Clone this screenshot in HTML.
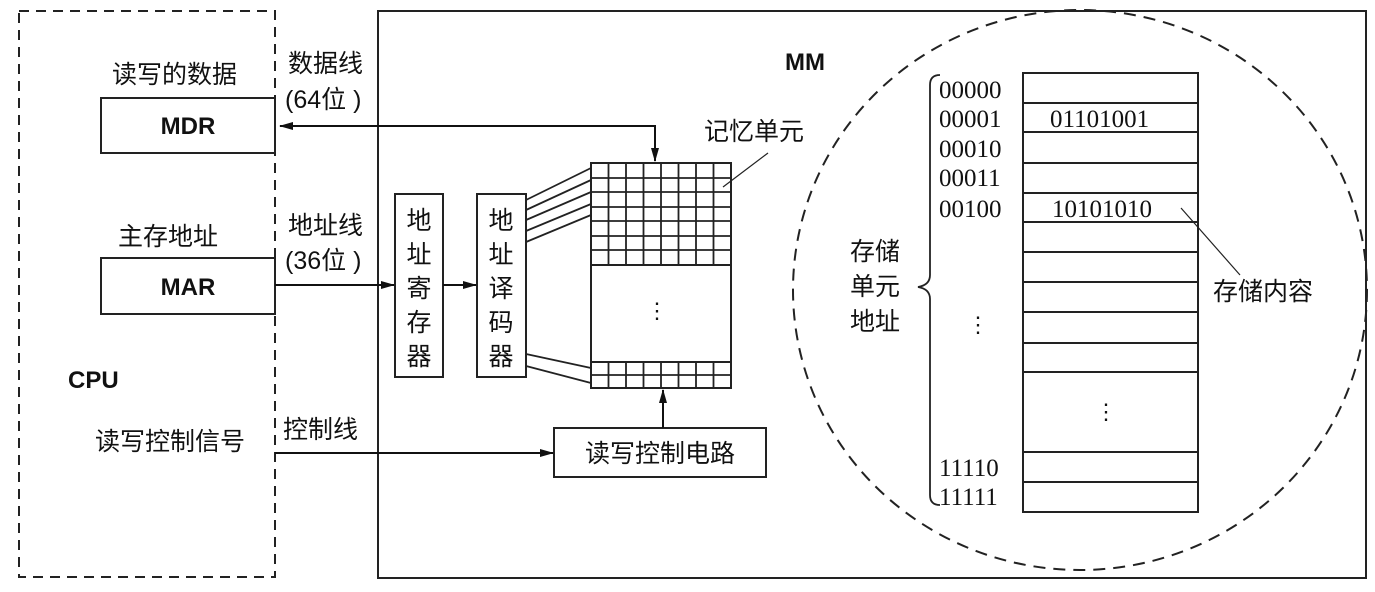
<!DOCTYPE html>
<html><head><meta charset="utf-8"><style>
body{margin:0;background:#fff;}
svg{display:block;}
text{fill:#111;}
.cn{font-family:"Liberation Sans","Noto Sans CJK SC",sans-serif;font-size:25px;}
.en{font-family:"Liberation Sans",sans-serif;font-size:24px;font-weight:bold;}
.num{font-family:"Liberation Serif",serif;font-size:25px;}
</style></head><body>
<svg width="1375" height="592" viewBox="0 0 1375 592" xmlns="http://www.w3.org/2000/svg">
<defs>
<marker id="a" markerWidth="14" markerHeight="8" refX="13" refY="4" orient="auto" markerUnits="userSpaceOnUse"><path d="M0,0 L14,4 L0,8 z" fill="#111"/></marker>
</defs>
<g stroke="#222" fill="none" stroke-width="2">
<rect x="19" y="11" width="256" height="566" stroke-dasharray="10,7"/>
<rect x="101" y="98" width="174" height="55"/>
<rect x="101" y="258" width="174" height="56"/>
<rect x="378" y="11" width="988" height="567"/>
<rect x="395" y="194" width="48" height="183"/>
<rect x="477" y="194" width="49" height="183"/>
<rect x="554" y="428" width="212" height="49"/>
<rect x="591" y="163" width="140" height="225"/>
<line x1="591" y1="265" x2="731" y2="265"/>
<line x1="591" y1="362" x2="731" y2="362"/>
</g>
<g stroke="#222" stroke-width="1.8">
<line x1="591" y1="178" x2="731" y2="178"/><line x1="591" y1="192" x2="731" y2="192"/>
<line x1="591" y1="207" x2="731" y2="207"/><line x1="591" y1="221" x2="731" y2="221"/>
<line x1="591" y1="236" x2="731" y2="236"/><line x1="591" y1="250" x2="731" y2="250"/>
<line x1="591" y1="375" x2="731" y2="375"/>
<line x1="608.5" y1="163" x2="608.5" y2="265"/><line x1="626" y1="163" x2="626" y2="265"/>
<line x1="643.5" y1="163" x2="643.5" y2="265"/><line x1="661" y1="163" x2="661" y2="265"/>
<line x1="678.5" y1="163" x2="678.5" y2="265"/><line x1="696" y1="163" x2="696" y2="265"/>
<line x1="713.5" y1="163" x2="713.5" y2="265"/>
<line x1="608.5" y1="362" x2="608.5" y2="388"/><line x1="626" y1="362" x2="626" y2="388"/>
<line x1="643.5" y1="362" x2="643.5" y2="388"/><line x1="661" y1="362" x2="661" y2="388"/>
<line x1="678.5" y1="362" x2="678.5" y2="388"/><line x1="696" y1="362" x2="696" y2="388"/>
<line x1="713.5" y1="362" x2="713.5" y2="388"/>
<line x1="526" y1="200" x2="591" y2="168"/><line x1="526" y1="210" x2="591" y2="180"/>
<line x1="526" y1="220" x2="591" y2="192"/><line x1="526" y1="231" x2="591" y2="204"/>
<line x1="526" y1="242" x2="591" y2="215"/>
<line x1="526" y1="354" x2="591" y2="368"/><line x1="526" y1="366" x2="591" y2="383"/>
<line x1="768" y1="153" x2="723" y2="187" stroke-width="1.2"/>
<line x1="1181" y1="208" x2="1240" y2="275" stroke-width="1.2"/>
</g>
<g stroke="#111" stroke-width="2" fill="none">
<polyline points="655,126 280,126" marker-end="url(#a)"/>
<polyline points="378,126 655,126 655,161" marker-end="url(#a)"/>
<line x1="275" y1="285" x2="394" y2="285" marker-end="url(#a)"/>
<line x1="443" y1="285" x2="476" y2="285" marker-end="url(#a)"/>
<line x1="275" y1="453" x2="553" y2="453" marker-end="url(#a)"/>
<line x1="663" y1="428" x2="663" y2="390" marker-end="url(#a)"/>
</g>
<ellipse cx="1080" cy="290" rx="287" ry="280" fill="none" stroke="#222" stroke-width="2" stroke-dasharray="12,8"/>
<g stroke="#222" stroke-width="2" fill="none">
<rect x="1023" y="73" width="175" height="439"/>
<line x1="1023" y1="103" x2="1198" y2="103"/><line x1="1023" y1="132" x2="1198" y2="132"/>
<line x1="1023" y1="163" x2="1198" y2="163"/><line x1="1023" y1="193" x2="1198" y2="193"/>
<line x1="1023" y1="222" x2="1198" y2="222"/><line x1="1023" y1="252" x2="1198" y2="252"/>
<line x1="1023" y1="282" x2="1198" y2="282"/><line x1="1023" y1="312" x2="1198" y2="312"/>
<line x1="1023" y1="343" x2="1198" y2="343"/><line x1="1023" y1="372" x2="1198" y2="372"/>
<line x1="1023" y1="452" x2="1198" y2="452"/><line x1="1023" y1="482" x2="1198" y2="482"/>
<path d="M940,75 Q930,75 930,85 L930,275 Q930,285 918,287 Q930,289 930,299 L930,495 Q930,505 940,505" stroke-width="1.8"/>
</g>
<text class="cn" x="112" y="83">读写的数据</text>
<text class="cn" x="288" y="72">数据线</text>
<text class="cn" x="285" y="108">(64位 )</text>
<text class="en" x="188" y="134" text-anchor="middle">MDR</text>
<text class="cn" x="118" y="245">主存地址</text>
<text class="cn" x="288" y="234">地址线</text>
<text class="cn" x="285" y="269">(36位 )</text>
<text class="en" x="188" y="295" text-anchor="middle">MAR</text>
<text class="en" x="68" y="388">CPU</text>
<text class="cn" x="95" y="450">读写控制信号</text>
<text class="cn" x="283" y="438">控制线</text>
<text class="en" x="805" y="70" text-anchor="middle">MM</text>
<text class="cn" x="704" y="140">记忆单元</text>
<g class="cn" text-anchor="middle">
<text x="419" y="229">地</text><text x="419" y="263">址</text><text x="419" y="297">寄</text><text x="419" y="331">存</text><text x="419" y="365">器</text>
<text x="501" y="229">地</text><text x="501" y="263">址</text><text x="501" y="297">译</text><text x="501" y="331">码</text><text x="501" y="365">器</text>
</g>
<text class="cn" x="660" y="462" text-anchor="middle">读写控制电路</text>
<text x="657" y="318" font-size="22" text-anchor="middle" font-family="Liberation Serif,serif">⋮</text>
<text class="cn" x="850" y="260">存储</text>
<text class="cn" x="850" y="295">单元</text>
<text class="cn" x="850" y="330">地址</text>
<g class="num">
<text x="939" y="98">00000</text><text x="939" y="127">00001</text><text x="939" y="157">00010</text>
<text x="939" y="186">00011</text><text x="939" y="217">00100</text>
<text x="939" y="476">11110</text><text x="939" y="505">11111</text>
<text x="1050" y="127">01101001</text><text x="1052" y="217">10101010</text>
</g>
<text x="978" y="332" font-size="22" text-anchor="middle" font-family="Liberation Serif,serif">⋮</text>
<text x="1106" y="419" font-size="22" text-anchor="middle" font-family="Liberation Serif,serif">⋮</text>
<text class="cn" x="1213" y="300">存储内容</text>
</svg>
</body></html>
